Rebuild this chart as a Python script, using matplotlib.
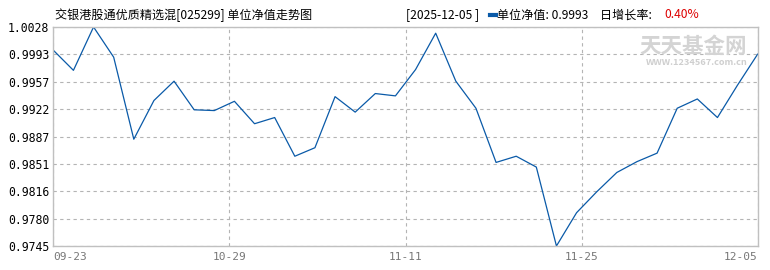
import numpy as np
import matplotlib
matplotlib.use("Agg")
import matplotlib.pyplot as plt
from matplotlib.lines import Line2D

plt.rcParams['font.family'] = ['Noto Sans CJK SC', 'DejaVu Sans']

# net value per day
nav = [0.9998, 0.9972, 1.0028, 0.9989, 0.9883, 0.9933, 0.9958, 0.9921, 0.9920, 0.9932,
       0.9903, 0.9911, 0.9861, 0.9872, 0.9938, 0.9918, 0.9942, 0.9939, 0.9973, 1.0020,
       0.9958, 0.9923, 0.9853, 0.9861, 0.9847, 0.9745, 0.9788, 0.9815, 0.9840, 0.9854,
       0.9865, 0.9923, 0.9935, 0.9911, 0.9953, 0.9993]
x_labels = ['09-23', '10-29', '11-11', '11-25', '12-05']
y_labels = ['0.9745', '0.9780', '0.9816', '0.9851', '0.9887',
            '0.9922', '0.9957', '0.9993', '1.0028']

title = '交银港股通优质精选混[025299] 单位净值走势图'
last_date = '[2025-12-05 ]'
last_nav = '单位净值: 0.9993'
growth_label = '日增长率: '
growth = '0.40%'

W, H = 770, 270
fig = plt.figure(figsize=(W / 100, H / 100), dpi=100)
ax = fig.add_axes([53.3 / W, 1 - 246 / H, (757.7 - 53.3) / W, (246 - 27) / H])

n = len(nav)
xs = np.arange(n)
ax.plot(xs, nav, color='#0a5aa8', lw=0.9)

ymin, ymax = min(nav), max(nav)
ax.set_xlim(0, n - 1)
ax.set_ylim(ymin, ymax)

yt = np.linspace(ymin, ymax, len(y_labels))
ax.set_yticks(yt)
ax.set_yticklabels(y_labels, family='DejaVu Sans Mono', fontsize=8.3, color='black')

xt = np.linspace(0, n - 1, len(x_labels))
ax.set_xticks(xt)
ax.set_xticklabels(x_labels, family='DejaVu Sans Mono', fontsize=8, color='#777777')
xl = ax.get_xticklabels()
xl[0].set_horizontalalignment('left')
xl[-1].set_horizontalalignment('right')

ax.tick_params(length=0, pad=4)
ax.tick_params(axis='y', pad=3)
ax.grid(True, ls=(0, (3, 3)), color='#b4b4b4', lw=0.8)

for s in ax.spines.values():
    s.set_color('#c0c0c0')
    s.set_linewidth(1)

# watermark
ax.text(0.985, 0.913, '天天基金网', transform=ax.transAxes, ha='right', va='center',
        fontsize=15.5, fontweight='bold', color='#d4d4d4')
ax.text(0.985, 0.837, 'WWW.1234567.com.cn', transform=ax.transAxes, ha='right', va='center',
        fontsize=6.6, fontweight='bold', color='#cfcfcf')

# header texts
ty = 1 - 15 / H
fs = 8.7
fig.text(55 / W, ty, title, fontsize=fs, va='center', ha='left')
fig.text(406 / W, ty, last_date, fontsize=fs, va='center', ha='left')
fig.add_artist(Line2D([490 / W, 496 / W], [ty, ty], transform=fig.transFigure,
                      color='#0a5aa8', lw=3))
fig.text(497 / W, ty, last_nav, fontsize=fs, va='center', ha='left')
fig.text(600 / W, ty, growth_label, fontsize=fs, va='center', ha='left')
fig.text(664 / W, ty, growth, fontsize=fs, va='center', ha='left', color='#dd0000')

fig.savefig('out.png', dpi=100)
